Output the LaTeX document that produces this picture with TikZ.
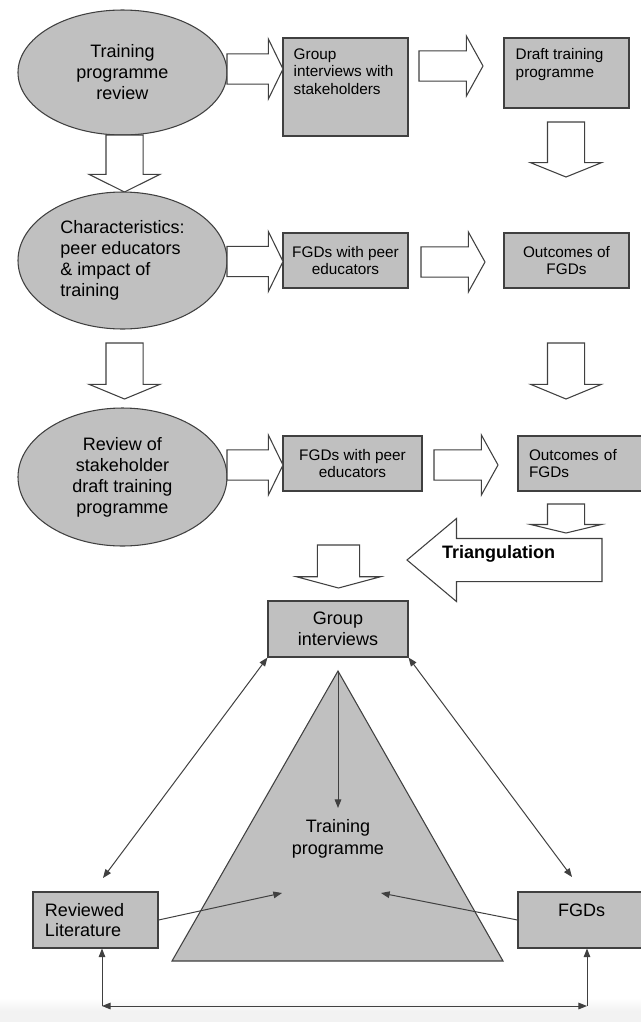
\documentclass[tikz,border=0pt]{standalone}
\usepackage{fontspec}
\setmainfont{Liberation Sans}
\usepackage{xcolor}
\usepackage{tikz}
\usetikzlibrary{positioning,arrows.meta,shapes,calc}

\definecolor{boxgray}{HTML}{C0C0C0}
\definecolor{edgegray}{HTML}{404040}
\definecolor{bandgray}{HTML}{F2F2F2}

\begin{document}
\begin{tikzpicture}[
    x=0.75pt, y=-0.75pt,
    >={Triangle[length=6.5pt,width=5pt]},
    bubble/.style={ellipse, draw=edgegray, fill=boxgray, line width=0.8pt, minimum width=156.75pt, inner sep=0pt, align=center, font=\fontsize{13.5}{15.75}\selectfont},
    panel/.style={rectangle, draw=edgegray, fill=boxgray, line width=0.8pt, inner sep=0pt, align=center, font=\fontsize{11.5}{12.9}\selectfont},
    bigpanel/.style={panel, font=\fontsize{13.5}{15.5}\selectfont},
    paneltext/.style={inner sep=0pt, align=left, font=\fontsize{11.5}{13.1}\selectfont},
    fat/.style={single arrow, draw=edgegray, fill=white, line width=0.8pt, inner xsep=0pt, outer sep=0pt, minimum width=0pt, single arrow head indent=0pt, anchor=tail},
    fatright/.style={fat, inner ysep=10.9pt, single arrow head extend=11.25pt, single arrow tip angle=128, minimum height=42pt},
    fatdown/.style={fat, rotate=-90, inner ysep=13.5pt, single arrow head extend=12.75pt, single arrow tip angle=135, minimum height=42pt},
    link/.style={draw=edgegray, line width=0.75pt}
]

\useasboundingbox (0,0) rectangle (641,1022);
\clip (0,0) rectangle (641,1022);

% light band at the foot
\fill[bandgray] (0,1011) rectangle (641,1022);
\shade[top color=white, bottom color=bandgray] (0,998) rectangle (641,1011);

% First row
\node[bubble, minimum height=93.75pt] (rev) at (122.5,72.5) {Training\\programme\\review};
\node[panel, minimum width=93.75pt, minimum height=73.5pt] (grpint) at (345.5,87) {};
\node[paneltext, below right=8.25pt and 8.25pt of grpint.north west] (grpintlbl) {Group\\interviews with\\stakeholders};
\node[panel, minimum width=93.75pt, minimum height=52.5pt] (draft) at (566.5,73) {};
\node[paneltext, below right=8.25pt and 9pt of draft.north west] (draftlbl) {Draft training\\programme};

\node[fatright] (a1) at (227,69) {};
\node[fatright, minimum height=48pt, single arrow tip angle=122] (a2) at (419,66) {};
\node[fatdown, minimum height=42.75pt, single arrow tip angle=127] (d1) at (124.5,135) {};
\node[fatdown, minimum height=41.25pt, single arrow tip angle=136] (d2) at (566,122) {};

% Second row
\node[bubble, minimum height=102.75pt, align=left] (char) at (122.5,260.5) {Characteristics:\\peer educators\\\& impact of\\training};
\node[panel, minimum width=93.75pt, minimum height=41.25pt] (fgdpeer) at (345.5,260.5) {FGDs with peer\\educators};
\node[panel, minimum width=93.75pt, minimum height=41.25pt] (outc) at (566.5,260.5) {Outcomes of\\FGDs};

\node[fatright] (a3) at (227,261.5) {};
\node[fatright, minimum height=48pt, single arrow tip angle=122] (a4) at (421,262) {};
\node[fatdown] (d3) at (124.5,343) {};
\node[fatdown] (d4) at (566,343) {};

% Third row
\node[bubble, minimum height=103.5pt] (revstk) at (122.5,477) {Review of\\stakeholder\\draft training\\programme};
\node[panel, minimum width=104.25pt, minimum height=41.25pt] (fgdpeerb) at (352.5,463.5) {FGDs with peer\\educators};
\node[panel, minimum height=41.25pt, text width=78.75pt, inner xsep=8.25pt, align=left] (outcb) at (581.5,463.5) {Outcomes of\\FGDs};

\node[fatright] (a5) at (227,465) {};
\node[fatright, minimum height=48pt, single arrow tip angle=122] (a6) at (434,465) {};

% Triangulation
\node[fatdown, minimum height=21.75pt, single arrow tip angle=153] (d5) at (566,504) {};
\node[fat, rotate=180, inner ysep=15.75pt, single arrow head extend=15pt, single arrow tip angle=80, minimum height=146.25pt] (tri) at (602,560) {};
\node[font=\bfseries\fontsize{13.5}{15}\selectfont, inner sep=0pt] (trilbl) at (498.5,554) {Triangulation};
\node[fatdown, inner ysep=15.4pt, single arrow head extend=15.75pt, single arrow tip angle=150, minimum height=32.25pt] (d6) at (338.5,545) {};

% Triangle of sources
\coordinate (apex) at (338,671);
\filldraw[fill=boxgray, draw=edgegray, line width=0.8pt] (apex) -- (503,961) -- (172,961) -- cycle;
\node[align=center, inner sep=0pt, font=\fontsize{13.5}{16.5}\selectfont] (prog) at (338,839) {Training\\programme};

\node[bigpanel, minimum width=105pt, minimum height=42pt] (grp) at (338,629) {Group\\interviews};
\node[bigpanel, minimum height=42pt, text width=75.75pt, inner xsep=9pt, align=left] (lit) at (95.5,920) {Reviewed\\Literature};
\node[bigpanel, minimum width=95.25pt, minimum height=42pt] (fgds) at (581.5,920) {};
\node[inner sep=0pt, font=\fontsize{13.5}{15.5}\selectfont, below=9.4pt of fgds.north] (fgdslbl) {FGDs};

\coordinate (progtop) at (338,808);
\coordinate (litin) at (282,893);
\coordinate (fgdin) at (381,893);
\coordinate (litup) at (103,878);
\coordinate (fgdup) at (572,877);
\coordinate (footl) at (102,1006);
\coordinate (footr) at (587,1006);

\draw[link, ->] (apex) -- (progtop);
\draw[link, ->] (lit.east) -- (litin);
\draw[link, ->] (fgds.west) -- (fgdin);
\draw[link, <->] (grp.south west) -- (litup);
\draw[link, <->] (grp.south east) -- (fgdup);
\draw[link, ->] (footl) -- (footl |- lit.south);
\draw[link, <->] (footl) -- (footr);
\draw[link, ->] (footr) -- (footr |- fgds.south);

\end{tikzpicture}
\end{document}
